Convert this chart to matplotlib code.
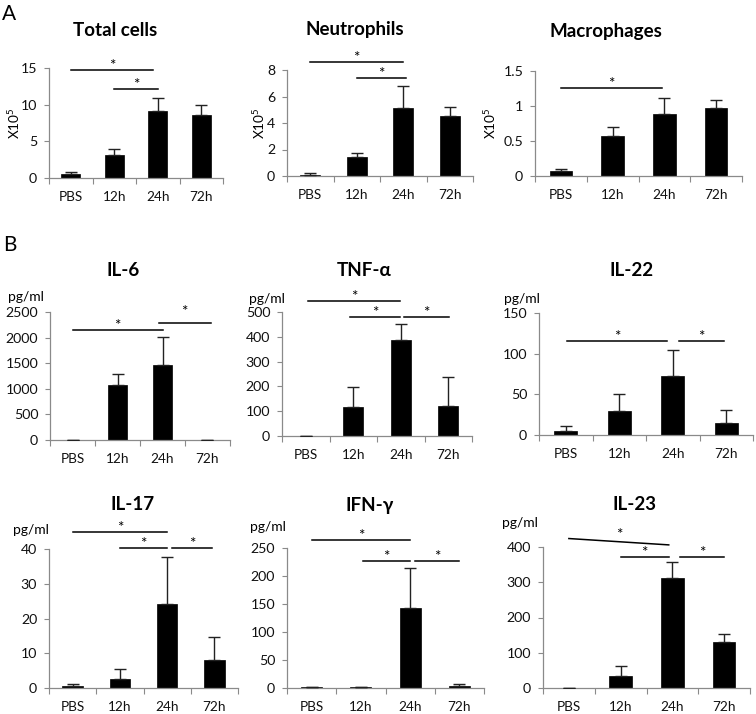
import matplotlib
matplotlib.use('Agg')
import matplotlib.pyplot as plt
from matplotlib.ticker import FixedLocator, FuncFormatter
import numpy as np

plt.rcParams['font.family'] = ['Lato', 'DejaVu Sans']
plt.rcParams['mathtext.fontset'] = 'custom'
plt.rcParams['mathtext.rm'] = 'Lato'
plt.rcParams['mathtext.default'] = 'regular'

# ---------------- data ----------------
categories = ['PBS', '12h', '24h', '72h']

total_mean = [0.55, 3.2, 9.1, 8.6]
total_err = [0.3, 0.8, 1.75, 1.3]
neut_mean = [0.08, 1.4, 5.1, 4.5]
neut_err = [0.13, 0.35, 1.7, 0.7]
macro_mean = [0.07, 0.57, 0.89, 0.97]
macro_err = [0.035, 0.13, 0.22, 0.11]
il6_mean = [3, 1065, 1470, 8]
il6_err = [0, 225, 540, 0]
tnf_mean = [0, 115, 389, 121]
tnf_err = [0, 84, 64, 115]
il22_mean = [4.5, 30, 73, 15]
il22_err = [7, 20, 32, 16]
il17_mean = [0.6, 2.5, 24.3, 8.0]
il17_err = [0.6, 3.0, 13.5, 6.7]
ifn_mean = [1, 1, 142, 3]
ifn_err = [0, 0, 72, 4]
il23_mean = [1, 33, 313, 130]
il23_err = [0, 30, 44, 23]

# significance brackets: (x_start, x_end, y_start, y_end)
total_sig = [(0, 1.9, 14.7, 14.7), (1.0, 2.0, 12.2, 12.2)]
neut_sig = [(0, 2.0, 8.6, 8.6), (1.0, 2.05, 7.4, 7.4)]
macro_sig = [(0, 1.95, 1.26, 1.26)]
il6_sig = [(0, 2.0, 2150, 2150), (1.92, 3.07, 2285, 2285)]
tnf_sig = [(0.05, 1.98, 543, 543), (0.93, 1.98, 480, 480), (2.07, 3.02, 480, 480)]
il22_sig = [(0.02, 1.9, 116, 116), (2.12, 2.96, 115.5, 115.5)]
il17_sig = [(0, 2.0, 45, 45), (1.0, 2.0, 40.2, 40.2), (2.1, 2.95, 40.2, 40.2)]
ifn_sig = [(0, 2.0, 264, 264), (1.05, 2.0, 226, 226), (2.1, 3.0, 226, 226)]
il23_sig = [(0, 1.93, 424, 406), (1.0, 1.93, 373, 373), (2.15, 3.0, 373, 373)]

total_ticks = [0, 5, 10, 15]
neut_ticks = [0, 2, 4, 6, 8]
macro_ticks = [0, 0.5, 1, 1.5]
il6_ticks = [0, 500, 1000, 1500, 2000, 2500]
tnf_ticks = [0, 100, 200, 300, 400, 500]
il22_ticks = [0, 50, 100, 150]
il17_ticks = [0, 10, 20, 30, 40]
ifn_ticks = [0, 50, 100, 150, 200, 250]
il23_ticks = [0, 100, 200, 300, 400]

# ---------------- layout ----------------
W, H = 756, 714
fig = plt.figure(figsize=(W / 100, H / 100), dpi=100)

def px_text(x, y, s, **kw):
    fig.text(x / W, 1 - y / H, s, **kw)

SPINE = '#8a8a8a'

def panel(box, mean, err, ticks, sig, title, title_xy, ylabel=None, ylabel_x=None,
          unit_xy=None, star_extra=None):
    l, t, r, b = box
    ax = fig.add_axes([l / W, 1 - b / H, (r - l) / W, (b - t) / H])
    x = np.arange(len(categories))
    ax.bar(x, mean, width=0.43, color='black', edgecolor='black', linewidth=0.5, zorder=2)
    ax.errorbar(x, mean, yerr=[np.zeros(len(err)), err], fmt='none', ecolor='#222222',
                elinewidth=1.0, capsize=4, capthick=1.0, zorder=3)
    ax.set_xlim(-0.5, len(categories) - 0.5)
    ax.set_ylim(ticks[0], ticks[-1])
    ax.set_xticks(x)
    ax.set_xticklabels(categories, fontsize=9.8, color='#111111')
    ax.xaxis.set_minor_locator(FixedLocator(np.arange(-0.5, len(categories), 1.0)))
    ax.tick_params(axis='x', which='major', length=0, pad=9.5)
    ax.tick_params(axis='x', which='minor', length=4, width=0.8, color=SPINE, direction='out')
    ax.set_yticks(ticks)
    ax.yaxis.set_major_formatter(FuncFormatter(lambda v, p: '{:g}'.format(v)))
    ax.tick_params(axis='y', length=3.5, width=0.8, color=SPINE, pad=5, labelsize=10.2,
                   labelcolor='#111111')
    for s in ['top', 'right']:
        ax.spines[s].set_visible(False)
    for s in ['left', 'bottom']:
        ax.spines[s].set_color(SPINE)
        ax.spines[s].set_linewidth(0.9)
    for i, (x0, x1, y0, y1) in enumerate(sig):
        ax.plot([x0, x1], [y0, y1], color='black', lw=1.1, clip_on=False, zorder=4)
        off = 0
        if star_extra and i in star_extra:
            off += star_extra[i]
        ax.annotate('*', xy=((x0 + x1) / 2, max(y0, y1)), xytext=(0, off),
                    textcoords='offset pixels', ha='center', va='baseline',
                    fontsize=11, annotation_clip=False)
    px_text(title_xy[0], title_xy[1], title, ha='center', va='center',
            fontsize=13.5, fontweight='bold')
    if ylabel is not None:
        px_text(ylabel_x, (t + b) / 2, ylabel, ha='center', va='center',
                rotation=90, fontsize=9.8)
    if unit_xy is not None:
        px_text(unit_xy[0], unit_xy[1], 'pg/ml', ha='left', va='center', fontsize=10)
    return ax

xl = r'X10$^{5}$'
panel((49, 68, 223, 178), total_mean, total_err, total_ticks, total_sig,
      'Total cells', (115, 30), ylabel=xl, ylabel_x=14)
panel((287, 70, 473, 176), neut_mean, neut_err, neut_ticks, neut_sig,
      'Neutrophils', (355, 30), ylabel=xl, ylabel_x=259)
panel((535, 71, 742, 176), macro_mean, macro_err, macro_ticks, macro_sig,
      'Macrophages', (606, 32), ylabel=xl, ylabel_x=490)

panel((50, 312, 230, 440), il6_mean, il6_err, il6_ticks, il6_sig,
      'IL-6', (123, 270), unit_xy=(8, 297), star_extra={1: 7})
panel((282, 312, 472, 436), tnf_mean, tnf_err, tnf_ticks, tnf_sig,
      'TNF-α', (364, 271), unit_xy=(249, 299))
panel((539, 313, 753, 435), il22_mean, il22_err, il22_ticks, il22_sig,
      'IL-22', (632, 271), unit_xy=(504, 299))

panel((49, 549, 238, 688), il17_mean, il17_err, il17_ticks, il17_sig,
      'IL-17', (133, 505), unit_xy=(13, 530))
panel((287, 548, 484, 688), ifn_mean, ifn_err, ifn_ticks, ifn_sig,
      'IFN-γ', (370, 505), unit_xy=(250, 527))
panel((543, 547, 750, 688), il23_mean, il23_err, il23_ticks, il23_sig,
      'IL-23', (634, 505), unit_xy=(502, 523))

px_text(9, 14, 'A', ha='center', va='center', fontsize=15)
px_text(10, 245, 'B', ha='center', va='center', fontsize=15)

fig.savefig('out.png', dpi=100)
